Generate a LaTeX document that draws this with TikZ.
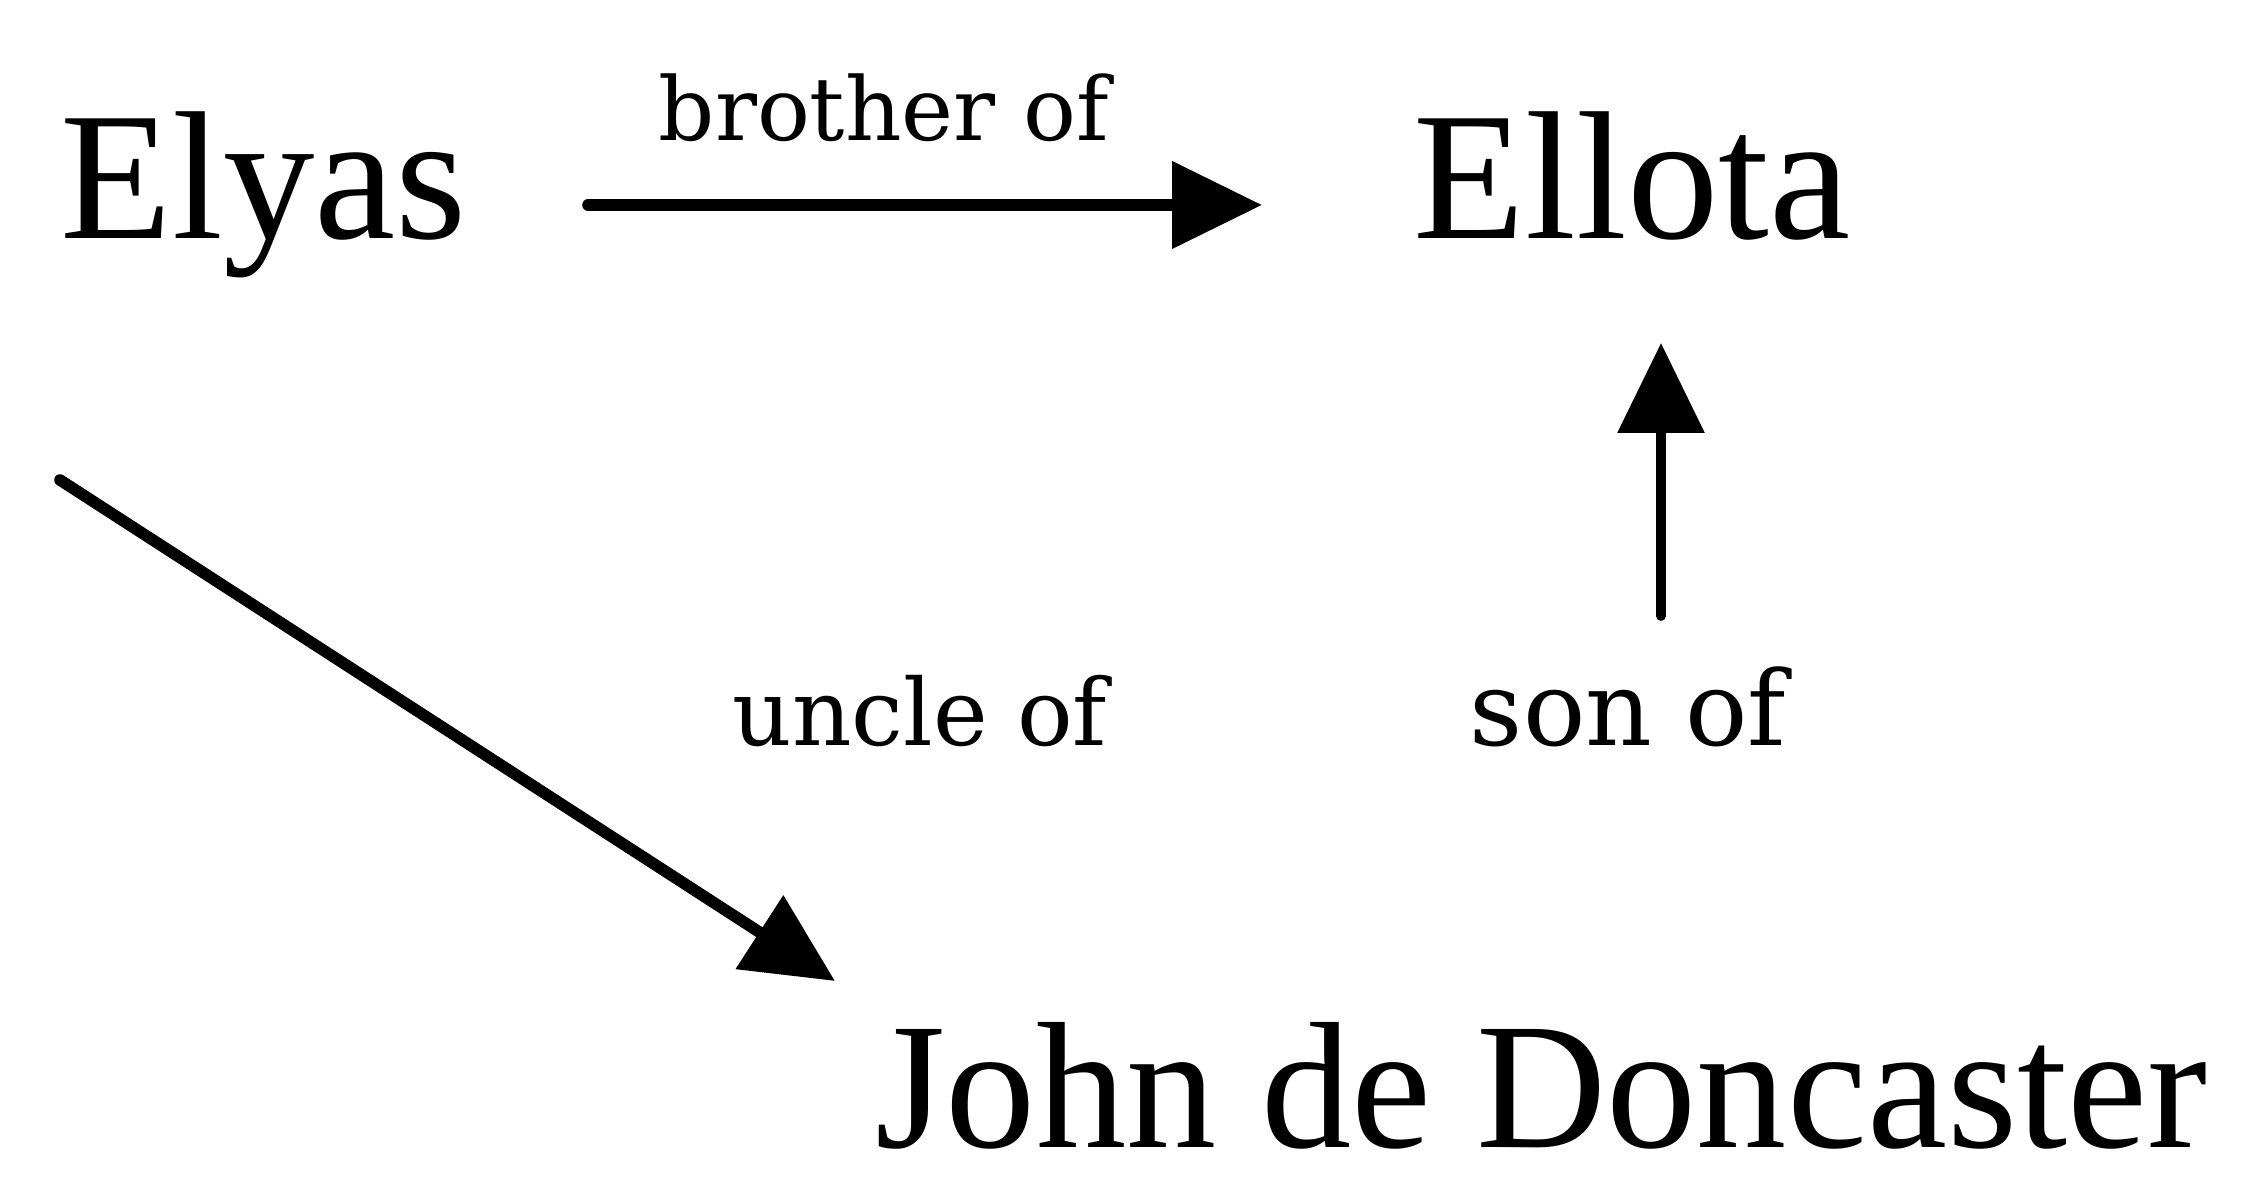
\documentclass[tikz,border=0pt]{standalone}
\usepackage{fontspec}
\setmainfont{Liberation Serif}
\newfontfamily\labelfont{DejaVu Serif}
\usetikzlibrary{positioning, arrows.meta}
\tikzset{
  person/.style={inner sep=0pt, anchor=base west, font=\fontsize{52}{60}\selectfont},
  relation/.style={inner sep=0pt, anchor=base, font=\labelfont\fontsize{27}{32}\selectfont},
  arrow/.style={line width=3.3pt, line cap=round, -{Triangle[length=9mm, width=8.5mm]}},
}

\begin{document}
\begin{tikzpicture}
  \useasboundingbox (0,0) rectangle (22.49,11.78);

  % people
  \node[person] (elyas) at (0.60,9.39) {Elyas};
  \node[person] (ellota) at (14.13,9.39) {Ellota};
  \node[person, font=\fontsize{51.3}{60}\selectfont] (john) at (8.75,0.31) {John de Doncaster};

  % relations
  \node[relation, font=\labelfont\fontsize{25}{30}\selectfont] (brother) at (8.84,10.37) {brother of};
  \node[relation, font=\labelfont\fontsize{26.3}{32}\selectfont] (uncle) at (9.20,4.32) {uncle of};
  \node[relation, font=\labelfont\fontsize{29.5}{34}\selectfont] (son) at (16.28,4.32) {son of};

  % arrow ends
  \coordinate (bro0) at (5.88,9.73);
  \coordinate (bro1) at (12.62,9.73);
  \coordinate (unc0) at (0.60,6.98);
  \coordinate (unc1) at (8.35,1.97);
  \coordinate (son0) at (16.61,5.62);
  \coordinate (son1) at (16.61,8.35);

  \draw[arrow] (bro0) -- (bro1);
  \draw[arrow] (unc0) -- (unc1);
  \draw[arrow, line width=2.8pt] (son0) -- (son1);
\end{tikzpicture}
\end{document}
